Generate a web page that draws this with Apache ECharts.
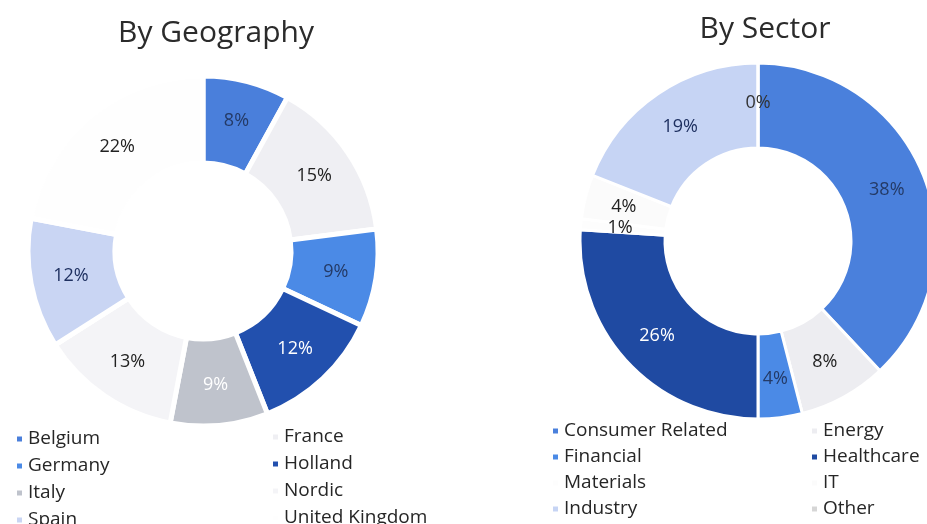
<!DOCTYPE html>
<html>
<head>
<meta charset="utf-8">
<script src="https://cdn.jsdelivr.net/npm/echarts@6/dist/echarts.min.js"></script>
<style>
  html, body { margin: 0; padding: 0; width: 100%; height: 100%; overflow: hidden; background: #fff; }
  #chart { width: 927px; height: 524px; }
</style>
</head>
<body>
<div id="chart"></div>
<script>
// By Geography
var geoNames = ['Belgium', 'France', 'Germany', 'Holland', 'Italy', 'Nordic', 'Spain', 'United Kingdom'];
var geoValues = [8, 15, 9, 12, 9, 13, 12, 22];
var geoColors = ['#4a7fdb', '#efeff3', '#4b8ae6', '#2250ae', '#bfc3cc', '#f4f4f7', '#c9d5f3', '#fefefe'];
var geoLabelColors = ['#243a66', '#222', '#243a66', '#fff', '#fff', '#222', '#1e3060', '#222'];

// By Sector
var secNames = ['Consumer Related', 'Energy', 'Financial', 'Healthcare', 'Materials', 'IT', 'Industry', 'Other'];
var secValues = [38, 8, 4, 26, 1, 4, 19, 0];
var secColors = ['#4a80dc', '#ededf1', '#4b8ae6', '#1f4aa2', '#fdfdfd', '#fbfbfb', '#c6d4f4', '#d6d6d6'];
var secLabelColors = ['#243a66', '#222', '#243a66', '#fff', '#222', '#222', '#1e3060', '#333'];

function pieData(names, values, colors, labelColors) {
  return names.map(function (n, i) {
    return { name: n, value: values[i], itemStyle: { color: colors[i] }, label: { color: labelColors[i] } };
  });
}

var font = 'Open Sans';
var legendBase = {
  orient: 'vertical', icon: 'rect', itemWidth: 7, itemHeight: 7,
  height: 160, selectedMode: false,
  textStyle: { fontFamily: font, fontSize: 19, color: '#262626', lineHeight: 20 }
};

var chart = echarts.init(document.getElementById('chart'));
chart.setOption({
  backgroundColor: '#fff',
  animation: false,
  title: [
    { text: 'By Geography', left: 211, top: 13, textAlign: 'center',
      textStyle: { fontFamily: font, fontSize: 30, fontWeight: 'normal', color: '#2b2b2b' } },
    { text: 'By Sector', left: 760, top: 9, textAlign: 'center',
      textStyle: { fontFamily: font, fontSize: 30, fontWeight: 'normal', color: '#2b2b2b' } }
  ],
  legend: [
    Object.assign({}, legendBase, { left: 10, top: 424, itemGap: 7, data: ['Belgium', 'Germany', 'Italy', 'Spain'] }),
    Object.assign({}, legendBase, { left: 266, top: 422, itemGap: 7, data: ['France', 'Holland', 'Nordic', 'United Kingdom'] }),
    Object.assign({}, legendBase, { left: 546, top: 416, itemGap: 6, data: ['Consumer Related', 'Financial', 'Materials', 'Industry'] }),
    Object.assign({}, legendBase, { left: 805, top: 416, itemGap: 6, data: ['Energy', 'Healthcare', 'IT', 'Other'] })
  ],
  series: [
    {
      type: 'pie', center: [203, 251], radius: [88, 175], startAngle: 90, clockwise: true,
      itemStyle: { borderColor: '#fff', borderWidth: 5 },
      label: { position: 'inside', formatter: '{c}%', fontFamily: font, fontSize: 18 },
      labelLine: { show: false },
      emphasis: { disabled: true },
      data: pieData(geoNames, geoValues, geoColors, geoLabelColors)
    },
    {
      type: 'pie', center: [758, 241], radius: [93, 178], startAngle: 90, clockwise: true,
      itemStyle: { borderColor: '#fff', borderWidth: 3 },
      label: { position: 'inside', formatter: '{c}%', fontFamily: font, fontSize: 18 },
      labelLine: { show: false },
      emphasis: { disabled: true },
      data: pieData(secNames, secValues, secColors, secLabelColors)
    }
  ]
});
</script>
</body>
</html>
